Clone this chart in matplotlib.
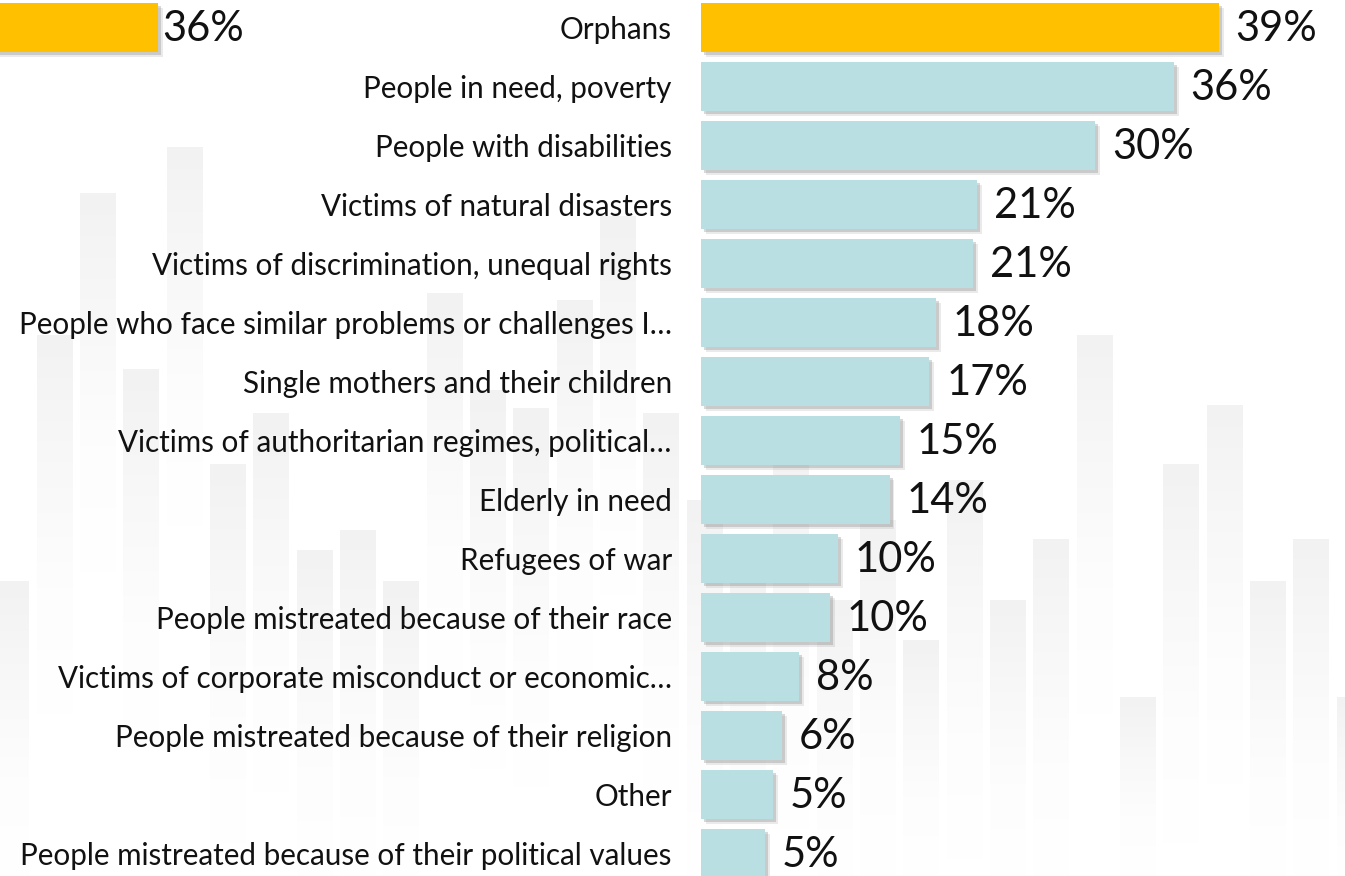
import numpy as np
import matplotlib
matplotlib.use('Agg')
import matplotlib.pyplot as plt
import matplotlib.patheffects as pe
from matplotlib.colors import LinearSegmentedColormap

# data
categories = [
    'Orphans',
    'People in need, poverty',
    'People with disabilities',
    'Victims of natural disasters',
    'Victims of discrimination, unequal rights',
    'People who face similar problems or challenges I…',
    'Single mothers and their children',
    'Victims of authoritarian regimes, political…',
    'Elderly in need',
    'Refugees of war',
    'People mistreated because of their race',
    'Victims of corporate misconduct or economic…',
    'People mistreated because of their religion',
    'Other',
    'People mistreated because of their political values',
]
values = [39.0, 35.6, 29.7, 20.8, 20.5, 17.7, 17.2, 15.0, 14.2, 10.3, 9.7, 7.4, 6.1, 5.4, 4.8]
value_labels = ['39%', '36%', '30%', '21%', '21%', '18%', '17%', '15%', '14%',
                '10%', '10%', '8%', '6%', '5%', '5%']

# cropped bar of the neighbouring chart (top left corner)
side_value = 36.0
side_label = '36%'

# decorative background columns (left edge px, top px)
bg_left = [-7, 37, 80, 123, 167, 210, 253, 297, 340, 383, 427, 470, 513, 557,
           600, 643, 687, 730, 773, 817, 860, 903, 947, 990, 1033, 1077, 1120,
           1163, 1207, 1250, 1293, 1337]
bg_top = [581, 335, 193, 369, 147, 464, 413, 550, 530, 581, 293, 390, 408, 300,
          216, 413, 500, 560, 450, 600, 520, 640, 480, 600, 539, 335, 697,
          464, 405, 581, 539, 697]

W, H = 1345, 876
fig = plt.figure(figsize=(W / 100, H / 100), dpi=100)
fig.patch.set_facecolor('white')

plt.rcParams['font.family'] = ['Lato', 'DejaVu Sans']

# background
bg = fig.add_axes([0, 0, 1, 1])
bg.axis('off')
cmap = LinearSegmentedColormap.from_list('fade', ['#f2f2f2', '#f8f8f8', '#fdfdfd', '#ffffff'])
for x0, t in zip(bg_left, bg_top):
    grad = np.linspace(0, 1, 200)[:, None]
    bg.imshow(grad, extent=[x0, x0 + 36, min(H, t + 380), t], cmap=cmap, aspect='auto',
              origin='upper', zorder=1)
bg.set_xlim(0, W)
bg.set_ylim(H, 0)

px = 13.28  # pixels per percent
x0 = 701
n = len(categories)
pitch = 59.0
y_top = -27.5 / pitch
y_bot = (H - 27.5) / pitch
xmax = (W - x0) / px

shadow = [pe.SimplePatchShadow(offset=(3.5, -3.5), shadow_rgbFace='#909090', alpha=0.18),
          pe.SimplePatchShadow(offset=(2.2, -2.2), shadow_rgbFace='#808080', alpha=0.3),
          pe.Normal()]

ax = fig.add_axes([x0 / W, 0, 1 - x0 / W, 1])
ax.set_facecolor('none')
colors = ['#FFC000'] + ['#B9DFE2'] * (n - 1)
y = np.arange(n)
bars = ax.barh(y, values, height=0.82, color=colors, zorder=3)
for b in bars:
    b.set_path_effects(shadow)
for yi, v, lab in zip(y, values, value_labels):
    ax.annotate(lab, (v, yi), xytext=(12, -1), textcoords='offset points',
                ha='left', va='center', fontsize=30, color='#111111')
ax.set_xlim(0, xmax)
ax.set_ylim(y_bot, y_top)
ax.set_yticks(y)
ax.set_yticklabels(categories, fontsize=21.3, color='#111111')
ax.tick_params(axis='y', length=0, pad=21)
ax.set_xticks([])
for s in ax.spines.values():
    s.set_visible(False)

# fragment of the neighbouring chart
side_x0 = 158 - side_value * px
ax2 = fig.add_axes([side_x0 / W, 0, (W - x0) / W, 1])
ax2.set_facecolor('none')
sb = ax2.barh([0], [side_value], height=0.82, color='#FFC000', zorder=3)
sb[0].set_path_effects(shadow)
ax2.annotate(side_label, (side_value, 0), xytext=(3, -1), textcoords='offset points',
             ha='left', va='center', fontsize=30, color='#111111')
ax2.set_xlim(0, xmax)
ax2.set_ylim(y_bot, y_top)
ax2.axis('off')

fig.savefig('out.png', dpi=100)
